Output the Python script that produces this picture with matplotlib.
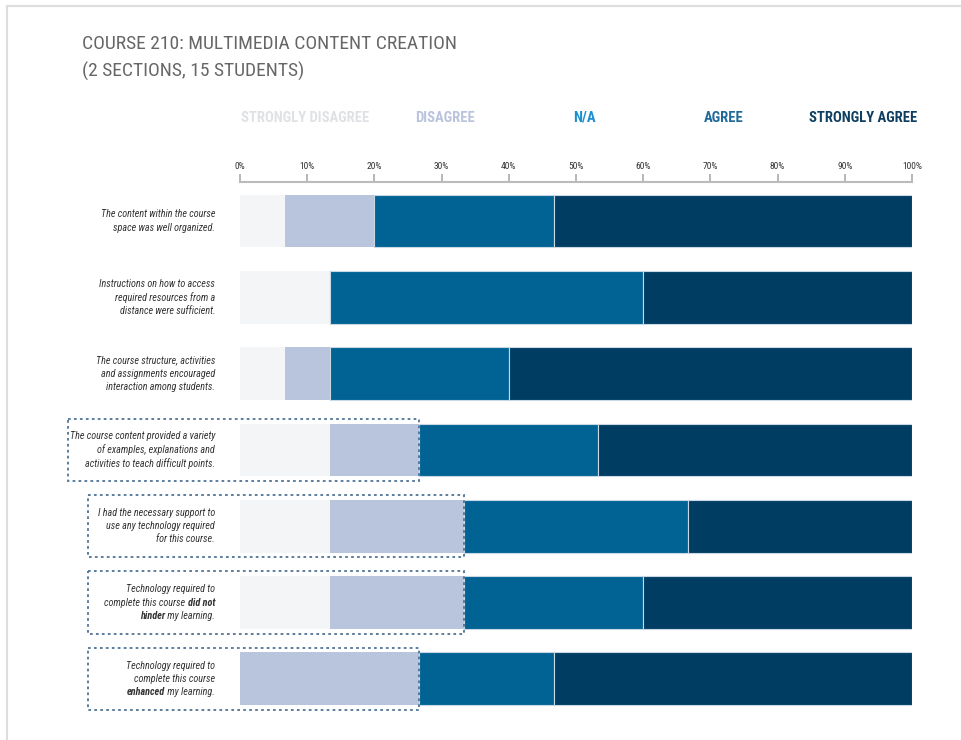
import matplotlib

matplotlib.use("Agg")
import matplotlib.pyplot as plt
from matplotlib import font_manager as fm
from matplotlib.lines import Line2D
from matplotlib.patches import Rectangle
from matplotlib.offsetbox import TextArea, HPacker, VPacker, AnnotationBbox
import numpy as np

# pick a narrow font if one exists, else a regular sans
names = {f.name for f in fm.fontManager.ttflist}
FONT = "DejaVu Sans"
for cand in ["Liberation Sans Narrow", "DejaVu Sans Condensed", "Roboto Condensed",
             "Open Sans Condensed", "Liberation Sans"]:
    if cand in names:
        FONT = cand
        break
plt.rcParams["font.family"] = [FONT, "DejaVu Sans"]

# ---- data (responses out of 15 students) ----
n_students = 15
# each question: lines of (text, bold) pieces
questions = [
    [[("The content within the course", False)],
     [("space was well organized.", False)]],
    [[("Instructions on how to access", False)],
     [("required resources from a", False)],
     [("distance were sufficient.", False)]],
    [[("The course structure, activities", False)],
     [("and assignments encouraged", False)],
     [("interaction among students.", False)]],
    [[("The course content provided a variety", False)],
     [("of examples, explanations and", False)],
     [("activities to teach difficult points.", False)]],
    [[("I had the necessary support to", False)],
     [("use any technology required", False)],
     [("for this course.", False)]],
    [[("Technology required to", False)],
     [("complete this course ", False), ("did not", True)],
     [("hinder", True), (" my learning.", False)]],
    [[("Technology required to", False)],
     [("complete this course", False)],
     [("enhanced", True), (" my learning.", False)]],
]
strongly_disagree = [1, 2, 1, 2, 2, 2, 0]
disagree = [2, 0, 1, 2, 3, 3, 4]
not_applicable = [0, 0, 0, 0, 0, 0, 0]
agree = [4, 7, 4, 4, 5, 4, 3]
strongly_agree = [8, 6, 9, 7, 5, 6, 8]
boxed = [False, False, False, True, True, True, True]

categories = ["STRONGLY DISAGREE", "DISAGREE", "N/A", "AGREE", "STRONGLY AGREE"]
bar_colors = ["#f4f5f7", "#b9c4dd", "#1a8fd0", "#006394", "#003d63"]
head_colors = ["#dfe1e5", "#b9c3dc", "#1a8fd0", "#1f6a9a", "#0f3f60"]

series = [strongly_disagree, disagree, not_applicable, agree, strongly_agree]
pct = [np.array(s) / n_students * 100 for s in series]

W, H = 961, 740
fig = plt.figure(figsize=(W / 100, H / 100), dpi=100)
ax = fig.add_axes([240 / W, 1 - 712 / H, 672 / W, 530 / H])

y = np.arange(len(questions))
left = np.zeros(len(questions))
for k, (vals, col) in enumerate(zip(pct, bar_colors)):
    ax.barh(y, vals, left=left, height=0.69, color=col,
            edgecolor="#c9d8e5" if k >= 2 else col, linewidth=0.8 if k >= 2 else 0)
    left = left + vals

ax.set_xlim(0, 100)
ax.set_ylim(6.435, -0.511)
ax.set_yticks([])
ax.xaxis.tick_top()
ax.set_xticks(np.arange(0, 101, 10))
ax.set_xticklabels([f"{v}%" for v in range(0, 101, 10)])
ax.tick_params(axis="x", direction="out", length=6, width=1.2, color="#aaaaaa",
               labelsize=6.8, labelcolor="#333333", pad=2)
for side in ["left", "right", "bottom"]:
    ax.spines[side].set_visible(False)
ax.spines["top"].set_color("#bbbbbb")
ax.spines["top"].set_linewidth(1.5)

# question labels (right aligned, italic, some words bold)
for i, lines in enumerate(questions):
    rows = []
    for pieces in lines:
        areas = [TextArea(t, textprops=dict(fontsize=7.3, style="italic", color="#333333",
                                            fontweight="bold" if b else "normal"))
                 for t, b in pieces]
        rows.append(HPacker(children=areas, pad=0, sep=0, align="baseline"))
    box = VPacker(children=rows, pad=0, sep=2.3, align="right")
    ab = AnnotationBbox(box, (-3.7, y[i]), xycoords="data", box_alignment=(1, 0.5),
                        frameon=False, pad=0, annotation_clip=False)
    ax.add_artist(ab)

# dotted boxes
d_end = pct[0] + pct[1]
for i, b in enumerate(boxed):
    if not b:
        continue
    x0 = -25.6 if i == 3 else -22.6
    ax.add_patch(Rectangle((x0, y[i] - 0.41), d_end[i] - x0, 0.82, fill=False,
                           edgecolor="#4f7396", linewidth=1.3, linestyle=(0, (1.5, 1.8)),
                           clip_on=False, zorder=5))

# category headers
for xpix, cat, col in zip([305, 445, 584, 724, 863], categories, head_colors):
    fig.text(xpix / W, 1 - 118 / H, cat, ha="center", va="center", fontsize=10.5,
             fontweight="bold", color=col)

fig.text(82 / W, 1 - 44 / H, "COURSE 210: MULTIMEDIA CONTENT CREATION", ha="left", va="center",
         fontsize=14, color="#666666")
fig.text(82 / W, 1 - 71 / H, "(2 SECTIONS, 15 STUDENTS)", ha="left", va="center",
         fontsize=14, color="#666666")

# page frame
fig.add_artist(Line2D([7 / W, 7 / W], [0, 1 - 6 / H], color="#dddddd", linewidth=1.5))
fig.add_artist(Line2D([7 / W, 1], [1 - 6 / H, 1 - 6 / H], color="#dddddd", linewidth=1.5))

fig.savefig("out.png", dpi=100)
